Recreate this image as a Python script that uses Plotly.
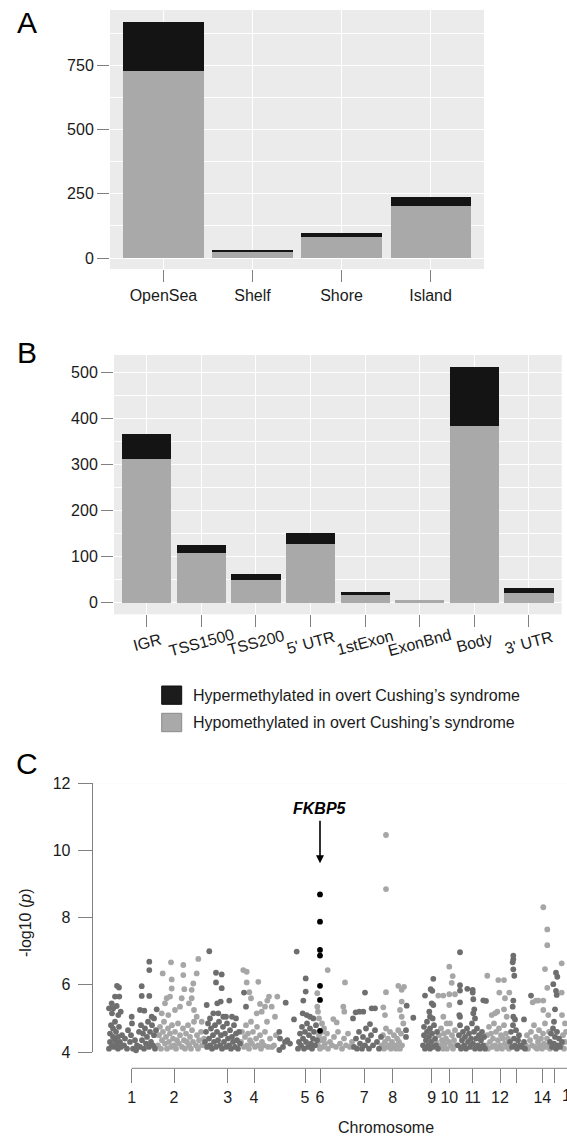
import plotly.graph_objects as go

W, H = 567, 1136
def fx(p): return p / W
def fy(p): return 1 - p / H

FONT = "Liberation Sans, Arial, Helvetica, sans-serif"
TXT = "#1a1a1a"
HYPER_COL = "#141414"
HYPO_COL = "#a9a9a9"
PANEL_BG = "#ebebeb"
ODD_COL = "#6e6e6e"
EVEN_COL = "#a6a6a6"
HIT_COL = "#000000"
AXIS_GRAY = "#808080"

# ---------------- Panel A: CpG island context ----------------
island_cats = ["OpenSea", "Shelf", "Shore", "Island"]
island_hypo = [726, 22, 80, 202]
island_hyper = [192, 9, 17, 36]

# ---------------- Panel B: gene region ----------------
gene_cats = ["IGR", "TSS1500", "TSS200", "5' UTR", "1stExon", "ExonBnd", "Body", "3' UTR"]
gene_hypo = [313, 109, 49, 127, 17, 6, 384, 21]
gene_hyper = [54, 17, 13, 25, 6, 0, 128, 12]

legend_labels = ["Hypermethylated in overt Cushing’s syndrome",
                 "Hypomethylated in overt Cushing’s syndrome"]

# ---------------- Panel C: Manhattan plot (genome index units) ----------------
chrom_tick_pos = [131.7, 174, 227.7, 254, 305, 320, 364.3, 392.7, 431.7, 449.3, 472.7, 500, 516, 542.3, 554]
chrom_tick_text = ["1", "2", "3", "4", "5", "6", "7", "8", "9", "10", "11", "12", "", "14", ""]
chrom16_pos = 571
chrom16_text = "16"

c1_x = [117, 119, 115, 119.3, 111.7, 116.7, 113.3, 120.7, 118.3, 131.7, 141.7, 141.7, 140, 144.3, 149.3, 149.3, 149.3, 156.7, 151.7, 154,
        109, 110, 110, 111, 112, 113, 113, 114, 115, 115, 116, 117, 118, 118, 119, 120, 121, 122, 124, 125, 127, 128, 130, 131, 132, 133,
        135, 137, 139, 140, 141, 142, 143, 144, 145, 146, 147, 148, 149, 150, 151, 152, 153, 154, 155, 156, 109, 112, 136]
c1_y = [5.97, 5.92, 5.65, 5.65, 5.45, 5.37, 5.3, 5.2, 5.1, 5.05, 5.96, 5.67, 5.25, 5.23, 6.69, 6.44, 5.67, 5.27, 5.05, 5.0,
        4.1, 4.3, 4.55, 4.8, 4.2, 4.45, 4.7, 4.15, 4.35, 4.9, 4.6, 4.25, 4.1, 4.45, 4.75, 4.3, 4.15, 4.5, 4.2, 4.4, 4.1, 4.65, 4.3, 4.5, 4.85, 4.1,
        4.35, 4.2, 4.6, 4.15, 4.8, 4.35, 4.55, 4.1, 4.7, 4.25, 4.45, 4.9, 4.15, 4.6, 4.3, 4.8, 4.2, 4.5, 4.1, 4.65, 5.3, 5.15, 4.05]

c2_x = [171, 162.7, 171.7, 171.7, 183.3, 183.3, 184.3, 181.7, 166.7, 170, 165, 175, 180, 161.7, 168.3, 198.3, 196.7, 193.3, 191.7, 189,
        191.7, 194, 196.7, 201.7,
        158, 159, 160, 161, 162, 163, 164, 165, 166, 167, 168, 169, 170, 171, 172, 173, 174, 175, 176, 177, 178, 179, 180, 182, 183, 184,
        185, 186, 187, 188, 189, 190, 191, 192, 193, 194, 196, 197, 198, 199, 201, 202, 204]
c2_y = [6.67, 6.34, 6.16, 5.89, 6.59, 6.29, 5.87, 5.6, 5.6, 5.65, 5.45, 5.25, 5.35, 5.15, 5.1, 6.77, 6.34, 6.04, 5.85, 5.45,
        5.6, 5.25, 5.05, 4.9,
        4.2, 4.5, 4.75, 4.1, 4.35, 4.6, 4.9, 4.25, 4.45, 4.1, 4.7, 4.3, 4.55, 4.15, 4.8, 4.4, 4.2, 4.6, 4.1, 4.35, 4.85, 4.25, 4.5, 4.15, 4.7, 4.35,
        4.1, 4.55, 4.3, 4.8, 4.2, 4.45, 4.1, 4.65, 4.3, 4.9, 4.2, 4.5, 4.1, 4.35, 4.6, 4.2, 4.4]

c3_x = [209.3, 216, 221.7, 216, 221.7, 220.7, 217.3, 229.3, 206.7, 213.3, 218.3, 223.3, 210, 226, 232, 236, 244, 246,
        205, 206, 207, 208, 209, 210, 211, 212, 213, 214, 215, 216, 217, 218, 219, 220, 221, 222, 223, 224, 225, 226, 227, 228,
        229, 230, 231, 232, 233, 234, 235, 236, 237, 238, 239, 240]
c3_y = [7.0, 6.36, 6.31, 6.07, 5.9, 5.5, 5.45, 5.53, 5.4, 5.15, 5.15, 5.05, 5.0, 5.05, 5.05, 5.0, 5.77, 5.35,
        4.3, 4.6, 4.15, 4.85, 4.4, 4.2, 4.7, 4.1, 4.5, 4.3, 4.8, 4.15, 4.6, 4.35, 4.9, 4.2, 4.5, 4.1, 4.75, 4.3, 4.55, 4.15, 4.85, 4.4,
        4.2, 4.65, 4.1, 4.45, 4.3, 4.8, 4.15, 4.55, 4.35, 4.1, 4.6, 4.25]

c4_x = [243.3, 246.7, 246.7, 258.3, 249.3, 251, 269, 277.3, 267.3, 260, 265, 271.7, 256.7, 261.7, 275,
        241, 242, 244, 245, 246, 247, 248, 249, 250, 251, 252, 253, 255, 256, 257, 258, 260, 261, 262, 264, 265, 267, 268, 270, 272, 274, 276]
c4_y = [6.44, 6.39, 6.07, 6.09, 5.78, 5.6, 5.65, 5.65, 5.53, 5.43, 5.35, 5.35, 5.15, 5.2, 5.05,
        4.3, 4.6, 4.15, 4.45, 4.8, 4.2, 4.55, 4.1, 4.35, 4.9, 4.25, 4.6, 4.15, 4.4, 4.75, 4.2, 4.5, 4.1, 4.3, 4.2, 4.6, 4.9, 4.15, 4.4, 4.15, 4.2, 4.5]

c5_x = [285.7, 279.3, 280, 279.3, 287.3, 290, 294, 296.7, 305.7, 305.7, 303.3, 302.7, 306.7, 310, 313.3,
        283, 285, 298, 299, 300, 301, 302, 303, 304, 305, 306, 307, 308, 309, 310, 311, 312, 313, 314, 315, 316, 317]
c5_y = [5.47, 4.6, 4.4, 4.06, 4.35, 4.25, 4.97, 6.99, 6.19, 5.8, 5.53, 5.15, 5.1, 5.05, 5.0,
        4.15, 4.3, 4.1, 4.3, 4.55, 4.2, 4.75, 4.4, 4.1, 4.6, 4.3, 4.85, 4.15, 4.5, 4.7, 4.25, 4.1, 4.4, 4.6, 4.2, 4.8, 4.35]

c6_x = [317.3, 317.3, 318, 319, 327.7, 345, 333.3, 336.7, 343.3, 344.3, 322, 324,
        318, 319, 320, 321, 322, 323, 324, 325, 327, 328, 330, 332, 334, 336, 338, 340, 342, 344, 346, 348, 350, 352]
c6_y = [5.75, 5.35, 5.2, 5.0, 6.44, 6.07, 4.98, 4.88, 5.35, 5.2, 4.85, 4.7,
        4.2, 4.5, 4.1, 4.35, 4.6, 4.15, 4.4, 4.25, 4.55, 4.1, 4.3, 4.2, 4.45, 4.15, 4.6, 4.25, 4.1, 4.4, 4.2, 4.55, 4.15, 4.3]

# FKBP5 CpGs (highlighted)
fkbp5_pos = 320
fkbp5_y = [8.69, 7.88, 7.04, 6.87, 5.97, 5.55, 4.63]

c7_x = [365, 355.7, 359.3, 363.3, 371.7, 375, 370, 353,
        354, 356, 357, 359, 360, 362, 363, 365, 366, 368, 369, 371, 373, 375, 377, 379, 381]
c7_y = [5.77, 5.18, 5.2, 5.2, 5.3, 5.3, 4.83, 5.0,
        4.15, 4.4, 4.1, 4.6, 4.25, 4.1, 4.45, 4.2, 4.7, 4.35, 4.1, 4.5, 4.2, 4.65, 4.3, 4.1, 4.45]

c8_x = [386, 386, 386, 383.3, 385, 398.3, 404, 401.7, 401.7, 400, 401.7, 403.3, 398.3,
        382, 383, 384, 385, 386, 387, 388, 389, 390, 391, 392, 393, 394, 395, 396, 397, 398, 399, 400, 401, 402]
c8_y = [10.46, 8.85, 5.78, 5.33, 5.1, 5.97, 5.94, 5.85, 5.5, 5.25, 5.05, 4.85, 4.65,
        4.2, 4.5, 4.1, 4.3, 4.7, 4.15, 4.4, 4.2, 4.6, 4.1, 4.3, 4.15, 4.5, 4.2, 4.1, 4.4, 4.2, 4.3, 4.1, 4.55, 4.2]

c9_x = [406.7, 406, 406, 413.3, 425, 433.3, 430.7, 432.3, 431.7, 433.3, 429.3, 430, 432.7,
        423, 424, 424, 425, 426, 427, 427, 428, 429, 430, 430, 431, 432, 433, 434, 435, 436, 437, 438]
c9_y = [5.38, 4.65, 4.45, 5.02, 5.68, 6.18, 5.87, 5.82, 5.45, 5.4, 5.2, 5.05, 5.0,
        4.2, 4.5, 4.75, 4.1, 4.35, 4.6, 4.9, 4.2, 4.45, 4.1, 4.7, 4.3, 4.55, 4.15, 4.8, 4.4, 4.2, 4.6, 4.1]

c10_x = [438.3, 443.3, 449.3, 452.7, 451.7, 449.3, 455, 449.3, 443.3, 446.7,
         436, 437, 439, 440, 441, 442, 443, 444, 445, 446, 447, 448, 449, 450, 451, 452, 453, 454, 455, 456]
c10_y = [5.68, 5.68, 6.54, 6.26, 6.06, 5.72, 5.72, 5.4, 5.05, 4.85,
         4.3, 4.15, 4.5, 4.2, 4.7, 4.35, 4.1, 4.55, 4.25, 4.4, 4.1, 4.6, 4.3, 4.85, 4.2, 4.5, 4.1, 4.35, 4.65, 4.2]

c11_x = [460, 460, 460, 467.3, 472.7, 472.7, 473.3, 460, 474.3, 459.3, 460, 473.3, 475, 483.3, 486,
         458, 459, 460, 461, 462, 463, 464, 465, 466, 467, 468, 469, 470, 471, 472, 473, 474, 475, 476, 477, 478, 479,
         480, 481, 482, 483, 484, 485]
c11_y = [6.97, 5.99, 5.83, 5.88, 5.85, 5.77, 5.57, 5.48, 5.27, 5.1, 5.05, 5.15, 5.0, 5.54, 5.52,
         4.2, 4.5, 4.8, 4.1, 4.35, 4.6, 4.2, 4.45, 4.1, 4.7, 4.3, 4.55, 4.15, 4.4, 4.85, 4.25, 4.6, 4.1, 4.4, 4.7, 4.2, 4.5,
         4.1, 4.35, 4.6, 4.2, 4.45, 4.1]

c12_x = [487.3, 498.3, 504, 499.3, 505, 509.3, 491.7, 495, 497.3, 504, 506.7,
         486, 487, 488, 489, 490, 491, 492, 493, 494, 495, 496, 497, 498, 499, 500, 501, 502, 503, 504, 505, 506, 507, 508, 509]
c12_y = [6.27, 6.14, 6.14, 5.77, 5.6, 5.77, 5.1, 5.15, 5.2, 5.27, 5.05,
         4.2, 4.5, 4.1, 4.75, 4.3, 4.55, 4.15, 4.4, 4.85, 4.2, 4.6, 4.1, 4.35, 4.7, 4.2, 4.5, 4.1, 4.4, 4.8, 4.25, 4.55, 4.15, 4.4, 4.1]

c13_x = [513.3, 513.3, 512.7, 513.3, 514.3, 513.3, 512.7, 513.3, 515, 524, 531,
         510, 511, 512, 513, 514, 515, 516, 517, 518, 519, 520, 522, 524, 525]
c13_y = [6.87, 6.76, 6.67, 6.46, 6.27, 5.53, 5.35, 5.05, 4.97, 4.97, 5.68,
         4.3, 4.6, 4.15, 4.8, 4.4, 4.2, 4.65, 4.1, 4.35, 4.5, 4.2, 4.15, 4.3, 4.1]

c14_x = [543.3, 547.3, 547.3, 545, 547.3, 538.3, 543.3, 532.7, 536, 543.3, 548.3,
         526, 527, 528, 530, 531, 532, 534, 535, 536, 537, 538, 539, 540, 541, 542, 543, 544, 545, 546, 547, 548, 549, 550]
c14_y = [8.31, 7.65, 7.18, 6.47, 5.91, 5.53, 5.53, 5.48, 5.53, 5.25, 5.1,
         4.2, 4.5, 4.1, 4.35, 4.6, 4.2, 4.8, 4.15, 4.45, 4.1, 4.3, 4.65, 4.2, 4.4, 4.1, 4.55, 4.25, 4.85, 4.15, 4.4, 4.2, 4.6, 4.1]

c15_x = [556, 557.3, 553.3, 556, 556.7, 555, 554,
         550, 551, 552, 553, 554, 555, 556, 557, 558, 559, 560, 562]
c15_y = [6.36, 6.24, 6.02, 5.82, 5.7, 5.27, 4.9,
         4.3, 4.55, 4.15, 4.7, 4.25, 4.45, 4.1, 4.6, 4.2, 4.4, 4.15, 4.3]

c16_x = [561.7, 561.7, 561, 563, 565, 566, 564, 562, 565]
c16_y = [6.64, 5.77, 4.2, 4.5, 4.3, 4.6, 4.1, 5.1, 4.85]

odd_x = c1_x + c3_x + c5_x + c7_x + c9_x + c11_x + c13_x + c15_x
odd_y = c1_y + c3_y + c5_y + c7_y + c9_y + c11_y + c13_y + c15_y
even_x = c2_x + c4_x + c6_x + c8_x + c10_x + c12_x + c14_x + c16_x
even_y = c2_y + c4_y + c6_y + c8_y + c10_y + c12_y + c14_y + c16_y

fig = go.Figure()

# Panel A bars
fig.add_trace(go.Bar(x=island_cats, y=island_hypo, marker_color=HYPO_COL, marker_line_width=0,
                     width=0.9, xaxis="x", yaxis="y", showlegend=False))
fig.add_trace(go.Bar(x=island_cats, y=island_hyper, marker_color=HYPER_COL, marker_line_width=0,
                     width=0.9, xaxis="x", yaxis="y", showlegend=False))
# Panel B bars
fig.add_trace(go.Bar(x=gene_cats, y=gene_hypo, marker_color=HYPO_COL, marker_line_width=0,
                     width=0.9, xaxis="x2", yaxis="y2", showlegend=False))
fig.add_trace(go.Bar(x=gene_cats, y=gene_hyper, marker_color=HYPER_COL, marker_line_width=0,
                     width=0.9, xaxis="x2", yaxis="y2", showlegend=False))

# Panel C points
fig.add_trace(go.Scatter(x=even_x, y=even_y, mode="markers", marker=dict(size=5.8, color=EVEN_COL),
                         xaxis="x3", yaxis="y3", showlegend=False, cliponaxis=False))
fig.add_trace(go.Scatter(x=odd_x, y=odd_y, mode="markers", marker=dict(size=5.8, color=ODD_COL),
                         xaxis="x3", yaxis="y3", showlegend=False, cliponaxis=False))
fig.add_trace(go.Scatter(x=[fkbp5_pos] * len(fkbp5_y), y=fkbp5_y, mode="markers",
                         marker=dict(size=5.8, color=HIT_COL),
                         xaxis="x3", yaxis="y3", showlegend=False, cliponaxis=False))

tickfont = dict(family=FONT, size=16, color=TXT)
gg_axis = dict(showline=False, zeroline=False, ticks="outside", ticklen=12, tickwidth=1,
               tickcolor=AXIS_GRAY, gridcolor="white", gridwidth=1.3, tickfont=tickfont,
               automargin=False)

fig.update_layout(
    width=W, height=H, margin=dict(l=0, r=0, t=0, b=0, autoexpand=False),
    paper_bgcolor="white", plot_bgcolor=PANEL_BG, barmode="stack", bargap=0.1,
    font=dict(family=FONT, size=16, color=TXT),
    xaxis=dict(gg_axis, domain=[fx(110), fx(484)], anchor="y", range=[-0.6, 3.6],
               type="category", showgrid=True),
    yaxis=dict(gg_axis, domain=[fy(269), fy(10)], anchor="x", range=[-42.8, 964.6],
               tickvals=[0, 250, 500, 750], showgrid=True,
               minor=dict(dtick=125, tick0=0, showgrid=True, gridcolor="white", gridwidth=0.6, ticks="")),
    xaxis2=dict(gg_axis, domain=[fx(114), fx(561.7)], anchor="y2", range=[-0.6, 7.6],
                type="category", showgrid=True, showticklabels=False),
    yaxis2=dict(gg_axis, domain=[fy(614.3), fy(355)], anchor="x2", range=[-25.2, 538.6],
                tickvals=[0, 100, 200, 300, 400, 500], showgrid=True,
                minor=dict(dtick=50, tick0=0, showgrid=True, gridcolor="white", gridwidth=0.6, ticks="")),
    xaxis3=dict(domain=[fx(92.7), 1.0], anchor="free", position=fy(1068.3), range=[92.7, 567],
                showgrid=False, zeroline=False, showline=False, ticks="outside", ticklen=14,
                tickwidth=1, tickcolor=AXIS_GRAY, tickvals=chrom_tick_pos, ticktext=chrom_tick_text,
                tickangle=0, tickfont=tickfont, automargin=False),
    yaxis3=dict(domain=[fy(1052), fy(783.3)], anchor="x3", range=[4, 12], showgrid=False,
                zeroline=False, showline=True, linecolor=AXIS_GRAY, linewidth=1, ticks="outside",
                ticklen=14, tickwidth=1, tickcolor=AXIS_GRAY, tickvals=[4, 6, 8, 10, 12],
                tickfont=tickfont, ticklabelstandoff=4, automargin=False),
)

shapes = []
# x-axis line of panel C (starts at chromosome 1)
shapes.append(dict(type="line", xref="x3", yref="paper", x0=chrom_tick_pos[0], x1=567,
                   y0=fy(1068.3), y1=fy(1068.3), line=dict(color=AXIS_GRAY, width=1)))
# white background for panel C (plot_bgcolor is shared)
shapes.append(dict(type="rect", xref="x3 domain", yref="y3 domain", x0=0, x1=1, y0=0, y1=1,
                   fillcolor="white", line=dict(width=0), layer="below"))
# legend swatches
shapes.append(dict(type="rect", xref="paper", yref="paper", x0=fx(161.7), x1=fx(181.7),
                   y0=fy(704.3), y1=fy(686), fillcolor="#1c1c1c", line=dict(color="#111111", width=1)))
shapes.append(dict(type="rect", xref="paper", yref="paper", x0=fx(161.7), x1=fx(181.7),
                   y0=fy(731.7), y1=fy(713.3), fillcolor=HYPO_COL, line=dict(color="#8a8a8a", width=1)))
fig.update_layout(shapes=shapes)

ann = []
for t, yy in [("A", 22.5), ("B", 353), ("C", 763)]:
    ann.append(dict(text=t, xref="paper", yref="paper", x=fx(27), y=fy(yy), showarrow=False,
                    xanchor="center", yanchor="middle", font=dict(family=FONT, size=30, color="black")))
# rotated category labels for panel B
for c in gene_cats:
    ann.append(dict(text=c, xref="x2", yref="paper", x=c, y=fy(642), showarrow=False,
                    xanchor="center", yanchor="middle", textangle=-15, font=tickfont))
# legend texts
ann.append(dict(text=legend_labels[0], xref="paper", yref="paper", x=fx(190.5), y=fy(695),
                showarrow=False, xanchor="left", yanchor="middle", font=tickfont))
ann.append(dict(text=legend_labels[1], xref="paper", yref="paper", x=fx(190.5), y=fy(722.5),
                showarrow=False, xanchor="left", yanchor="middle", font=tickfont))
# y title panel C
ann.append(dict(text="-log10 (<i>p</i>)", xref="paper", yref="paper", x=fx(25), y=fy(923),
                showarrow=False, textangle=-90, xanchor="center", yanchor="middle", font=tickfont))
# x title panel C
ann.append(dict(text="Chromosome", xref="paper", yref="paper", x=fx(386), y=fy(1127),
                showarrow=False, xanchor="center", yanchor="middle", font=tickfont))
# chromosome 16 label (runs off the right edge, as in the original crop)
ann.append(dict(text=chrom16_text, xref="paper", yref="paper", x=fx(chrom16_pos), y=fy(1095),
                showarrow=False, xanchor="center", yanchor="middle", font=tickfont))
# FKBP5 arrow and label
ann.append(dict(text="", x=fkbp5_pos, y=9.62, ax=fkbp5_pos, ay=10.93, xref="x3", yref="y3",
                axref="x3", ayref="y3", showarrow=True, arrowhead=2, arrowsize=1, arrowwidth=1.6,
                arrowcolor="black"))
ann.append(dict(text="<b><i>FKBP5</i></b>", x=fkbp5_pos, y=11.26, xref="x3", yref="y3",
                showarrow=False, xanchor="center", yanchor="middle",
                font=dict(family=FONT, size=16, color="black")))
fig.update_layout(annotations=ann)

fig.write_html("out.html", config={"displayModeBar": False},
               post_script="document.body.style.margin='0';document.body.style.overflow='hidden';")
